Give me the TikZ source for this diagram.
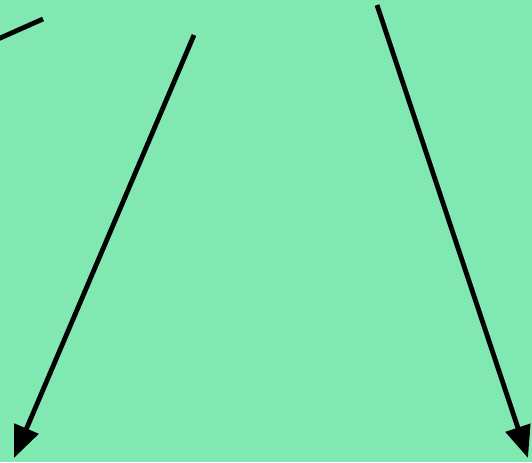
\documentclass[tikz,border=0pt]{standalone}
\usetikzlibrary{arrows.meta}

\begin{document}
\begin{tikzpicture}[
  x=0.75pt,y=-0.75pt,
  stroke/.style={line width=3.6pt},
  arr/.style={stroke,-{Triangle[length=24pt,width=19pt]}}
]
\fill[fill={rgb,255:red,130;green,232;blue,178}] (0,0) rectangle (532,462);
\useasboundingbox (0,0) rectangle (532,462);
\coordinate (s1) at (-2,39);
\coordinate (s2) at (43,19);
\coordinate (a1) at (194,35);
\coordinate (a2) at (14,458);
\coordinate (b1) at (377,5);
\coordinate (b2) at (528,458);
\draw[stroke] (s1)--(s2);
\draw[arr] (a1)--(a2);
\draw[arr] (b1)--(b2);
\end{tikzpicture}
\end{document}
